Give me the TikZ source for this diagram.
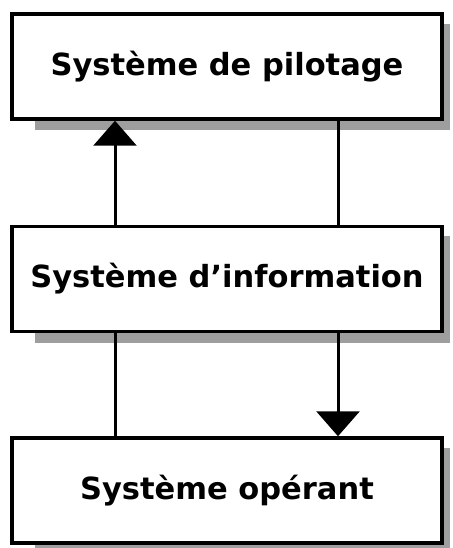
\documentclass[tikz,border=0pt]{standalone}
\usepackage{fontspec}
\setmainfont{DejaVu Sans}
\usetikzlibrary{arrows.meta}
\begin{document}
\begin{tikzpicture}[x=1pt,y=-1pt,
  sysbox/.style={draw=black,line width=3.5pt,fill=white,minimum width=430pt,minimum height=105pt,inner sep=0pt,font=\fontsize{30.5}{34}\selectfont\bfseries},
  shade/.style={fill=black!38,draw=none},
  link/.style={line width=3pt},
  tip/.style={-{Triangle[length=25pt,width=43pt]}}]
\useasboundingbox (0,0) rectangle (452,548);
% shadows
\fill[shade] (35,24) rectangle (450,130);
\fill[shade] (35,236) rectangle (450,343);
\fill[shade] (35,448) rectangle (450,548);
\node[sysbox] (pilot) at (227,66.5) {Système de pilotage};
\node[sysbox] (info) at (227,279) {Système d’information};
\node[sysbox] (oper) at (227,490.5) {Système opérant};
\draw[link,tip] (info.north -| 115,0) -- (pilot.south -| 115,0);
\draw[link] (pilot.south -| 338,0) -- (info.north -| 338,0);
\draw[link] (oper.north -| 115,0) -- (info.south -| 115,0);
\draw[link,tip] (info.south -| 338,0) -- (oper.north -| 338,0);
\end{tikzpicture}
\end{document}
